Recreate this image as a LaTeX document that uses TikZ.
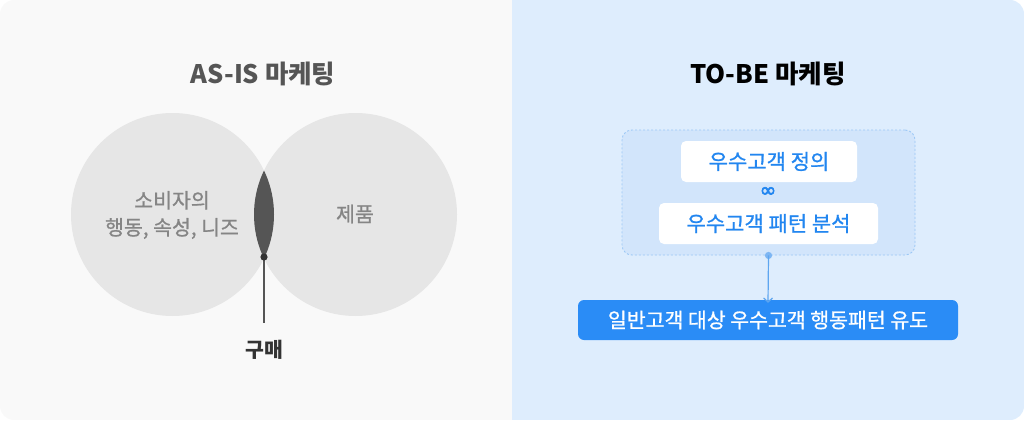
\documentclass[tikz,border=0pt]{standalone}
\usepackage{fontspec}
\setmainfont{Noto Sans CJK KR}
\newfontfamily\medfont[FakeBold=0.9]{Noto Sans CJK KR}
\newfontfamily\symfont[FakeBold=3]{DejaVu Sans}
\usetikzlibrary{arrows.meta}
\definecolor{leftbg}{HTML}{F9F9F9}
\definecolor{rightbg}{HTML}{DEEDFD}
\definecolor{circ}{HTML}{E6E6E6}
\definecolor{lens}{HTML}{555555}
\definecolor{graytxt}{HTML}{858585}
\definecolor{titlegray}{HTML}{555555}
\definecolor{darktxt}{HTML}{333333}
\definecolor{groupfill}{HTML}{D2E5FB}
\definecolor{groupline}{HTML}{9CC8F6}
\definecolor{bluetxt}{HTML}{2286F0}
\definecolor{bluebox}{HTML}{2A8CF6}
\definecolor{arrowblue}{HTML}{5EA6F0}
\definecolor{dotblue}{HTML}{7DB6F3}
\tikzset{
  title/.style={font=\bfseries\fontsize{25.5}{30}\selectfont},
  circtext/.style={font=\medfont\fontsize{20.5}{27}\selectfont, text=graytxt, align=center},
  whitebox/.style={fill=white, rounded corners=5pt, minimum height=41pt, inner sep=0pt, text=bluetxt, font=\medfont\fontsize{21}{24}\selectfont},
  bluebar/.style={fill=bluebox, rounded corners=6pt, minimum height=40pt, minimum width=380pt, inner sep=0pt, text=white, font=\medfont\fontsize{20.5}{24}\selectfont},
}
\begin{document}
\begin{tikzpicture}[x=1pt,y=-1pt]
\useasboundingbox (0,0) rectangle (1024,420);
\begin{scope}
  \clip[rounded corners=14pt] (0,0) rectangle (1024,420);
  \fill[leftbg] (0,0) rectangle (512,420);
  \fill[rightbg] (512,0) rectangle (1024,420);
\end{scope}
% AS-IS
\node[title, text=titlegray] (astitle) at (263,74) {AS-IS 마케팅};
\coordinate (cL) at (172.5,214.5);
\coordinate (cR) at (355.5,214.5);
\fill[circ] (cL) circle[radius=101.5];
\fill[circ] (cR) circle[radius=101.5];
\begin{scope}
  \clip (cL) circle[radius=101.5];
  \fill[lens] (cR) circle[radius=101.5];
\end{scope}
\node[circtext] (consumer) at (172,215) {소비자의\\행동, 속성, 니즈};
\node[circtext] (product) at (355,214) {제품};
\coordinate (buydot) at (264,257);
\node[font=\bfseries\fontsize{20.5}{24}\selectfont, text=darktxt] (buy) at (264,350) {구매};
\coordinate (buyend) at (264,323);
\draw[lens, line width=1.6pt] (buydot) -- (buyend);
\fill[darktxt] (buydot) circle[radius=3.6];
% TO-BE
\node[title, text=black] (tbtitle) at (768,74) {TO-BE 마케팅};
\node[draw=groupline, fill=groupfill, dash pattern=on 2pt off 2pt, line width=0.9pt, rounded corners=10pt, minimum width=293pt, minimum height=125pt] (group) at (768.5,192.5) {};
\node[whitebox, minimum width=176pt] (def) at (769,161.5) {우수고객 정의};
\node[text=bluetxt, font=\symfont\fontsize{20}{20}\selectfont, inner sep=0pt] (inf) at (768,192) {∞};
\node[whitebox, minimum width=219pt] (ana) at (768.5,223.5) {우수고객 패턴 분석};
\node[bluebar] (lead) at (768,320) {일반고객 대상 우수고객 행동패턴 유도};
\fill[dotblue] (group.south) circle[radius=3.6];
\draw[arrowblue, line width=1.2pt, -{Straight Barb[length=4pt,width=9pt]}] (group.south) -- ([yshift=-3pt]lead.north);
\end{tikzpicture}
\end{document}
